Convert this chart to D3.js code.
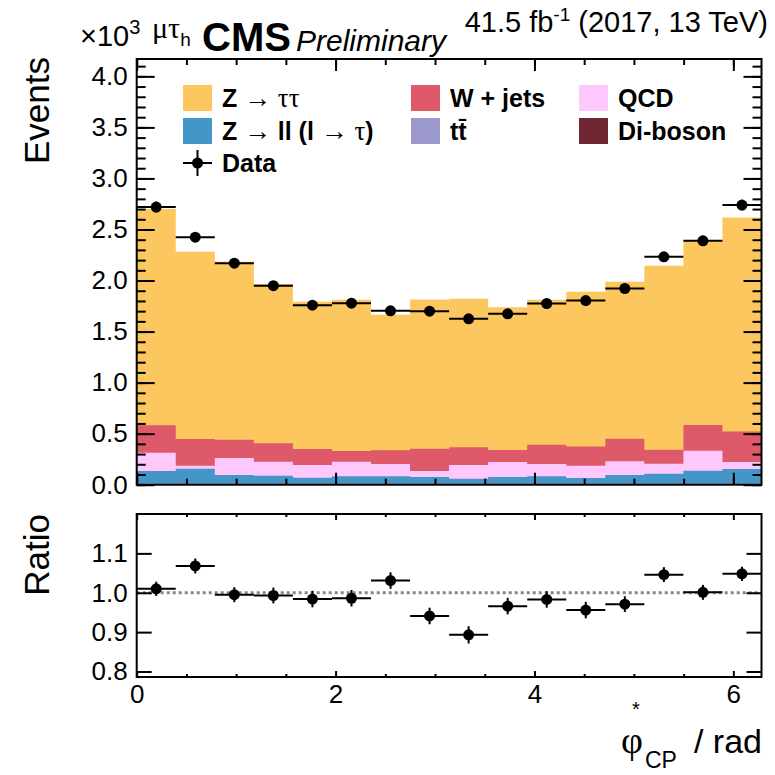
<!DOCTYPE html>
<html>
<head>
<meta charset="utf-8">
<script src="https://cdn.jsdelivr.net/npm/d3@7"></script>
<style>
body { margin: 0; background: #fff; }
text { font-family: "Liberation Sans", Arial, sans-serif; fill: #000; }
.greek { font-family: "Liberation Serif", "DejaVu Serif", serif; font-weight: normal; }
</style>
</head>
<body>
<svg id="chart" width="775" height="775"></svg>
<script>
// events per bin, in units of 10^3, 16 bins over [0, 2pi]
const nBins = 16;
const diboson = [0.005, 0.005, 0.005, 0.005, 0.005, 0.005, 0.005, 0.005, 0.005, 0.005, 0.005, 0.005, 0.005, 0.005, 0.005, 0.005];
const ttbar   = [0.008, 0.008, 0.008, 0.008, 0.008, 0.008, 0.008, 0.008, 0.008, 0.008, 0.008, 0.008, 0.008, 0.008, 0.008, 0.008];
const zll     = [0.121, 0.144, 0.082, 0.075, 0.056, 0.069, 0.069, 0.062, 0.046, 0.062, 0.069, 0.052, 0.082, 0.095, 0.124, 0.141];
const qcd     = [0.180, 0.029, 0.166, 0.137, 0.124, 0.143, 0.121, 0.059, 0.134, 0.147, 0.121, 0.121, 0.134, 0.098, 0.196, 0.068];
const wjets   = [0.268, 0.262, 0.180, 0.180, 0.157, 0.105, 0.134, 0.219, 0.173, 0.118, 0.189, 0.187, 0.222, 0.137, 0.252, 0.298];
const ztt     = [2.118, 1.833, 1.742, 1.562, 1.441, 1.481, 1.327, 1.461, 1.455, 1.399, 1.419, 1.516, 1.536, 1.801, 1.807, 2.098];

const data    = [2.720, 2.425, 2.170, 1.950, 1.759, 1.778, 1.703, 1.700, 1.625, 1.674, 1.775, 1.804, 1.922, 2.232, 2.389, 2.739];
const dataErr = [0.052, 0.049, 0.047, 0.044, 0.042, 0.042, 0.041, 0.041, 0.040, 0.041, 0.042, 0.042, 0.044, 0.047, 0.049, 0.052];
const ratio    = [1.010, 1.068, 0.995, 0.993, 0.984, 0.986, 1.031, 0.941, 0.893, 0.966, 0.983, 0.956, 0.971, 1.046, 1.001, 1.048];
const ratioErr = [0.018, 0.019, 0.019, 0.020, 0.021, 0.021, 0.021, 0.021, 0.022, 0.021, 0.021, 0.021, 0.020, 0.019, 0.019, 0.018];

const upperTicks = [0, 0.5, 1, 1.5, 2, 2.5, 3, 3.5, 4];
const ratioTicks = [0.8, 0.9, 1.0, 1.1];
const xTicks = [0, 2, 4, 6];

const keys = ['diboson', 'ttbar', 'zll', 'qcd', 'wjets', 'ztt'];
const colors = {
    ztt: '#fdc75f', zll: '#4496c9', wjets: '#de5a6a',
    ttbar: '#9b98cc', qcd: '#ffc8fd', diboson: '#6f2632'
};

var svg = d3.select('#chart');
svg.append('rect').attr('width', 775).attr('height', 775).attr('fill', '#fff');

var x = d3.scaleLinear().domain([0, 2 * Math.PI]).range([136.7, 761.5]);
var y = d3.scaleLinear().domain([0, 4.17]).range([484.7, 59]);
var yr = d3.scaleLinear().domain([0.786, 1.2]).range([677, 514]);

var edges = d3.range(nBins + 1).map(function(i) { return i * 2 * Math.PI / nBins; });
var centers = d3.range(nBins).map(function(i) { return (edges[i] + edges[i + 1]) / 2; });

// stacked backgrounds
var rows = d3.range(nBins).map(function(i) {
    return {diboson: diboson[i], ttbar: ttbar[i], zll: zll[i], qcd: qcd[i], wjets: wjets[i], ztt: ztt[i]};
});
var series = d3.stack().keys(keys)(rows);

var area = d3.area()
    .x(function(p) { return x(p.x); })
    .y0(function(p) { return y(p.lo); })
    .y1(function(p) { return y(p.hi); });

series.slice().reverse().forEach(function(s) {
    var pts = [];
    s.forEach(function(d, i) {
        pts.push({x: edges[i], lo: 0, hi: d[1]});
        pts.push({x: edges[i + 1], lo: 0, hi: d[1]});
    });
    svg.append('path').attr('d', area(pts)).attr('fill', colors[s.key]);
});

// ticks helper: d3 axes with ticks pointing into the frame
function ticks(g, axisFn, scale, values, size, labels, pad) {
    var ax = axisFn(scale).tickValues(values).tickSizeInner(size).tickSizeOuter(0);
    if (labels) ax.tickFormat(labels).tickPadding(pad); else ax.tickFormat('');
    g.call(ax);
    g.select('.domain').remove();
    g.selectAll('.tick line').attr('stroke', '#000').attr('stroke-width', 2);
    g.selectAll('.tick text').attr('font-size', 26).attr('font-family', '"Liberation Sans", Arial, sans-serif');
}

function minor(lo, hi, step) {
    return d3.range(Math.round((hi - lo) / step) + 1).map(function(i) { return +(lo + i * step).toFixed(3); });
}

var fmt1 = d3.format('.1f');

// upper pad axes
ticks(svg.append('g').attr('transform', 'translate(136.7,0)'), d3.axisLeft, y, upperTicks, -18, fmt1, 9);
ticks(svg.append('g').attr('transform', 'translate(136.7,0)'), d3.axisLeft, y, minor(0, 4.1, 0.1), -9);
ticks(svg.append('g').attr('transform', 'translate(761.5,0)'), d3.axisRight, y, upperTicks, -18);
ticks(svg.append('g').attr('transform', 'translate(761.5,0)'), d3.axisRight, y, minor(0, 4.1, 0.1), -9);
ticks(svg.append('g').attr('transform', 'translate(0,484.7)'), d3.axisBottom, x, xTicks, -12);
ticks(svg.append('g').attr('transform', 'translate(0,484.7)'), d3.axisBottom, x, minor(0, 6, 0.5), -6);
ticks(svg.append('g').attr('transform', 'translate(0,59)'), d3.axisTop, x, xTicks, -12);
ticks(svg.append('g').attr('transform', 'translate(0,59)'), d3.axisTop, x, minor(0, 6, 0.5), -6);

svg.append('rect')
    .attr('x', 136.7).attr('y', 59).attr('width', 761.5 - 136.7).attr('height', 484.7 - 59)
    .attr('fill', 'none').attr('stroke', '#000').attr('stroke-width', 2);

// data points, upper pad
var pts = svg.append('g');
centers.forEach(function(c, i) {
    pts.append('line').attr('x1', x(edges[i])).attr('x2', x(edges[i + 1]))
        .attr('y1', y(data[i])).attr('y2', y(data[i])).attr('stroke', '#000').attr('stroke-width', 2);
    pts.append('line').attr('x1', x(c)).attr('x2', x(c))
        .attr('y1', y(data[i] - dataErr[i])).attr('y2', y(data[i] + dataErr[i])).attr('stroke', '#000').attr('stroke-width', 2);
    pts.append('circle').attr('cx', x(c)).attr('cy', y(data[i])).attr('r', 5.5).attr('fill', '#000');
});

// ratio pad
svg.append('line').attr('x1', x(0)).attr('x2', x(2 * Math.PI)).attr('y1', yr(1)).attr('y2', yr(1))
    .attr('stroke', '#888').attr('stroke-width', 3).attr('stroke-dasharray', '3,3');

ticks(svg.append('g').attr('transform', 'translate(136.7,0)'), d3.axisLeft, yr, ratioTicks, -15, fmt1, 9);
ticks(svg.append('g').attr('transform', 'translate(761.5,0)'), d3.axisRight, yr, ratioTicks, -15);
ticks(svg.append('g').attr('transform', 'translate(0,677)'), d3.axisBottom, x, xTicks, -6, d3.format('d'), 8);
ticks(svg.append('g').attr('transform', 'translate(0,677)'), d3.axisBottom, x, minor(0, 6, 0.5).filter(function(v) { return v % 2; }), -3);
ticks(svg.append('g').attr('transform', 'translate(0,514)'), d3.axisTop, x, xTicks, -6);
ticks(svg.append('g').attr('transform', 'translate(0,514)'), d3.axisTop, x, minor(0, 6, 0.5).filter(function(v) { return v % 2; }), -3);

svg.append('rect')
    .attr('x', 136.7).attr('y', 514).attr('width', 761.5 - 136.7).attr('height', 677 - 514)
    .attr('fill', 'none').attr('stroke', '#000').attr('stroke-width', 2);

var rpts = svg.append('g');
centers.forEach(function(c, i) {
    rpts.append('line').attr('x1', x(edges[i])).attr('x2', x(edges[i + 1]))
        .attr('y1', yr(ratio[i])).attr('y2', yr(ratio[i])).attr('stroke', '#000').attr('stroke-width', 2);
    rpts.append('line').attr('x1', x(c)).attr('x2', x(c))
        .attr('y1', yr(ratio[i] - ratioErr[i])).attr('y2', yr(ratio[i] + ratioErr[i])).attr('stroke', '#000').attr('stroke-width', 2);
    rpts.append('circle').attr('cx', x(c)).attr('cy', yr(ratio[i])).attr('r', 5.5).attr('fill', '#000');
});

// axis titles
svg.append('text').attr('transform', 'translate(49,57) rotate(-90)')
    .attr('text-anchor', 'end').attr('font-size', 35).text('Events');
svg.append('text').attr('transform', 'translate(49,514) rotate(-90)')
    .attr('text-anchor', 'end').attr('font-size', 35).text('Ratio');

svg.append('text').attr('class', 'greek').attr('x', 621).attr('y', 753).attr('font-size', 38).text('\u03c6');
svg.append('text').attr('x', 632).attr('y', 716).attr('font-size', 20).text('*');
svg.append('text').attr('x', 645).attr('y', 768).attr('font-size', 23).text('CP');
svg.append('text').attr('x', 762).attr('y', 753).attr('text-anchor', 'end').attr('font-size', 34).text('/ rad');

// header
var h1 = svg.append('text').attr('x', 80).attr('y', 46).attr('font-size', 29);
h1.append('tspan').text('\u00d710');
h1.append('tspan').attr('font-size', 20).attr('dy', -12).text('3');

var h2 = svg.append('text').attr('x', 152).attr('y', 38).attr('font-size', 30);
h2.append('tspan').attr('class', 'greek').text('\u03bc\u03c4');
h2.append('tspan').attr('font-size', 19).attr('dy', 8).text('h');

svg.append('text').attr('x', 202).attr('y', 51).attr('font-size', 40).attr('font-weight', 'bold').text('CMS');
svg.append('text').attr('x', 296).attr('y', 51).attr('font-size', 30).attr('font-style', 'italic').text('Preliminary');

var h3 = svg.append('text').attr('x', 768).attr('y', 32).attr('text-anchor', 'end').attr('font-size', 29);
h3.append('tspan').text('41.5 fb');
h3.append('tspan').attr('font-size', 19).attr('dy', -11).text('-1');
h3.append('tspan').attr('dy', 11).text(' (2017, 13 TeV)');

// legend
var legend = [
    {key: 'ztt', x: 183, y: 98, parts: [['Z', 'b'], [' \u2192 \u03c4\u03c4', 'g']]},
    {key: 'zll', x: 183, y: 131, parts: [['Z', 'b'], [' \u2192 ', 'g'], ['ll (l', 'b'], [' \u2192 \u03c4', 'g'], [')', 'b']]},
    {key: 'wjets', x: 411, y: 98, parts: [['W + jets', 'b']]},
    {key: 'ttbar', x: 411, y: 131, parts: [['tt\u0304', 'b']]},
    {key: 'qcd', x: 579, y: 98, parts: [['QCD', 'b']]},
    {key: 'diboson', x: 579, y: 131, parts: [['Di-boson', 'b']]}
];
var lg = svg.append('g');
legend.forEach(function(e) {
    lg.append('rect').attr('x', e.x).attr('y', e.y - 13).attr('width', 29).attr('height', 26).attr('fill', colors[e.key]);
    var t = lg.append('text').attr('x', e.x + 39).attr('y', e.y + 9).attr('font-size', 25).attr('font-weight', 'bold');
    e.parts.forEach(function(p) {
        var s = t.append('tspan').text(p[0]);
        if (p[1] === 'g') s.attr('class', 'greek').attr('font-size', 27);
    });
});
lg.append('line').attr('x1', 183).attr('x2', 212).attr('y1', 163).attr('y2', 163).attr('stroke', '#000').attr('stroke-width', 2);
lg.append('line').attr('x1', 197.5).attr('x2', 197.5).attr('y1', 150).attr('y2', 176).attr('stroke', '#000').attr('stroke-width', 2);
lg.append('circle').attr('cx', 197.5).attr('cy', 163).attr('r', 5.5).attr('fill', '#000');
lg.append('text').attr('x', 222).attr('y', 172).attr('font-size', 25).attr('font-weight', 'bold').text('Data');
</script>
</body>
</html>
